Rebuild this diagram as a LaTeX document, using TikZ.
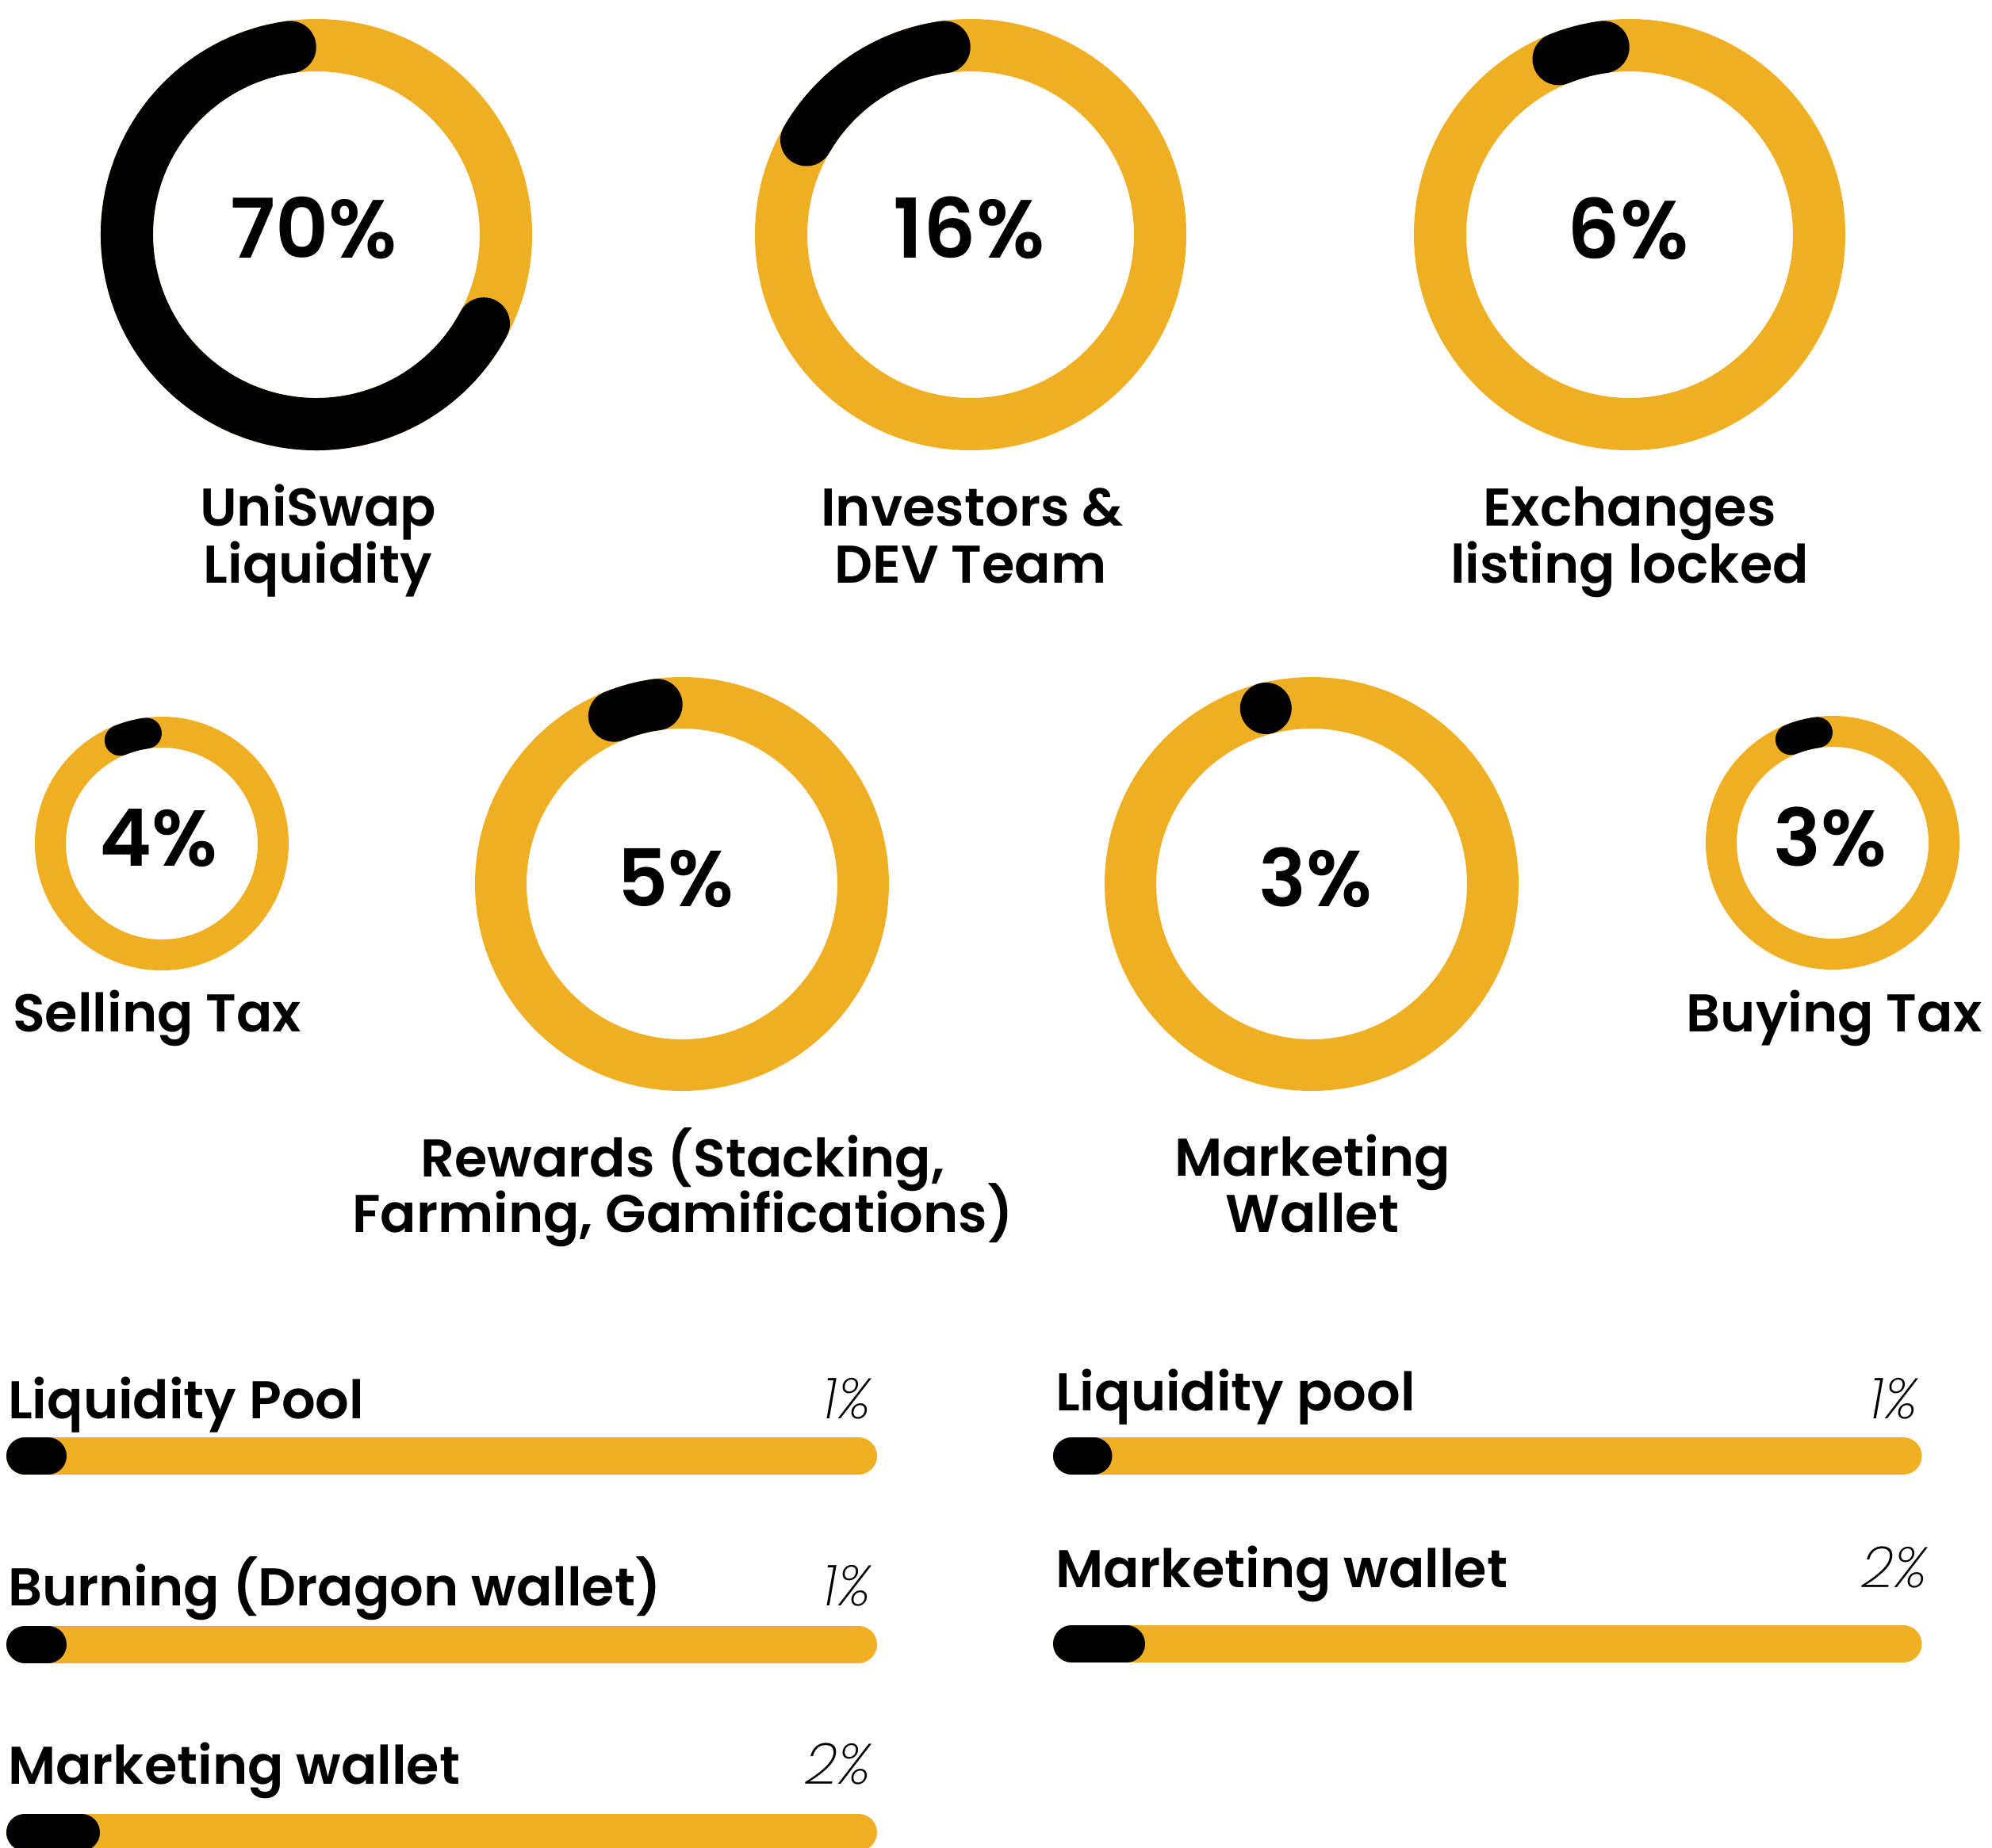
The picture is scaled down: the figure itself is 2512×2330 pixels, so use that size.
\documentclass[tikz,border=0pt]{standalone}
\usepackage{fontspec}
\setmainfont{Poppins}[UprightFont=* SemiBold, BoldFont=* SemiBold, ItalicFont=* ExtraLight Italic]
\definecolor{ylw}{RGB}{240,174,35}
\begin{document}
\begin{tikzpicture}[x=1pt,y=1pt,
  ringbig/.style={draw=ylw, line width=66pt},
  arcbig/.style={draw=black, line width=66pt, line cap=round},
  ringsmall/.style={draw=ylw, line width=39pt},
  arcsmall/.style={draw=black, line width=39pt, line cap=round},
  ringmid/.style={draw=ylw, line width=65pt},
  arcmid/.style={draw=black, line width=65pt, line cap=round},
  pct/.style={font=\fontsize{104}{110}\selectfont, anchor=base, inner sep=0pt},
  pcts/.style={font=\fontsize{100}{106}\selectfont, anchor=base, inner sep=0pt},
  lbl/.style={font=\fontsize{67}{72}\selectfont, anchor=base, inner sep=0pt},
  lblw/.style={font=\fontsize{67}{72}\selectfont, anchor=base west, inner sep=0pt},
  val/.style={font=\fontsize{72}{76}\selectfont\itshape, anchor=base east, inner sep=0pt},
  barbg/.style={draw=ylw, line width=47pt, line cap=round},
  barfg/.style={draw=black, line width=47pt, line cap=round}]
\useasboundingbox (0,0) rectangle (2512,-2330);
\fill[white] (0,0) rectangle (2512,-2330);

% ---- Row 1 donuts
\coordinate (c1) at (399,-296);
\coordinate (c2) at (1224,-296);
\coordinate (c3) at (2055,-296);
\draw[ringbig] (c1) circle[radius=239];
\draw[arcbig] (c1) ++(98:239) arc[start angle=98, end angle=332, radius=239];
\draw[ringbig] (c2) circle[radius=239];
\draw[arcbig] (c2) ++(98:239) arc[start angle=98, end angle=150, radius=239];
\draw[ringbig] (c3) circle[radius=239];
\draw[arcbig] (c3) ++(98:239) arc[start angle=98, end angle=112, radius=239];

\node[pct] (p1) at (396,-325.5) {70\%};
\node[pct] (p2) at (1222,-325.5) {16\%};
\node[pct] (p3) at (2053,-326) {6\%};

\node[lbl] (l1a) at (401,-663) {UniSwap};
\node[lbl] (l1b) at (401,-735) {Liquidity};
\node[lbl] (l2a) at (1226,-663) {Investors \&};
\node[lbl] (l2b) at (1224,-735) {DEV Team};
\node[lbl] (l3a) at (2055,-663) {Exchanges};
\node[lbl] (l3b) at (2055,-735) {listing locked};

% ---- Row 2 donuts
\coordinate (c4) at (204,-1064);
\coordinate (c5) at (860,-1115);
\coordinate (c6) at (1654,-1115);
\coordinate (c7) at (2311,-1063);
\draw[ringsmall] (c4) circle[radius=140.5];
\draw[arcsmall] (c4) ++(98:140.5) arc[start angle=98, end angle=112, radius=140.5];
\draw[ringmid] (c5) circle[radius=228.5];
\draw[arcmid] (c5) ++(98:228.5) arc[start angle=98, end angle=112, radius=228.5];
\draw[ringmid] (c6) circle[radius=228.5];
\fill[black] (c6) ++(104.6:229) circle[radius=32.5];
\draw[ringsmall] (c7) circle[radius=140.5];
\draw[arcsmall] (c7) ++(98:140.5) arc[start angle=98, end angle=112, radius=140.5];

\node[pcts] (p4) at (200,-1092) {4\%};
\node[pcts] (p5) at (852,-1143) {5\%};
\node[pcts] (p6) at (1659,-1143) {3\%};
\node[pcts] (p7) at (2308,-1092) {3\%};

\node[lbl] (l4) at (198,-1301.5) {Selling Tax};
\node[lbl] (l7) at (2313,-1301.5) {Buying Tax};
\node[lbl] (l5a) at (861,-1484) {Rewards (Stacking,};
\node[lbl] (l5b) at (861,-1554) {Farming, Gamifications)};
\node[lbl] (l6a) at (1655,-1483) {Marketing};
\node[lbl] (l6b) at (1655,-1554) {Wallet};

% ---- Bars, left column
\coordinate (a1s) at (31.5,-1836.5);  \coordinate (a1e) at (1082.5,-1836.5); \coordinate (a1f) at (60.5,-1836.5);
\coordinate (a2s) at (31.5,-2074);    \coordinate (a2e) at (1082.5,-2074);   \coordinate (a2f) at (60.5,-2074);
\coordinate (a3s) at (31.5,-2311);    \coordinate (a3e) at (1082.5,-2311);   \coordinate (a3f) at (102.5,-2311);
\draw[barbg] (a1s) -- (a1e); \draw[barfg] (a1s) -- (a1f);
\draw[barbg] (a2s) -- (a2e); \draw[barfg] (a2s) -- (a2f);
\draw[barbg] (a3s) -- (a3e); \draw[barfg] (a3s) -- (a3f);

\node[lblw] (t1) at (10,-1789) {Liquidity Pool};
\node[val] (v1) at (1098,-1789) {1\%};
\node[lblw] (t2) at (10,-2025) {Burning (Dragon wallet)};
\node[val] (v2) at (1098,-2025) {1\%};
\node[lblw] (t3) at (10,-2250.6) {Marketing wallet};
\node[val] (v3) at (1098,-2250.6) {2\%};

% ---- Bars, right column
\coordinate (b1s) at (1351.5,-1836.5); \coordinate (b1e) at (2400,-1836.5); \coordinate (b1f) at (1379,-1836.5);
\coordinate (b2s) at (1351.5,-2073.5); \coordinate (b2e) at (2400,-2073.5); \coordinate (b2f) at (1420.5,-2073.5);
\draw[barbg] (b1s) -- (b1e); \draw[barfg] (b1s) -- (b1f);
\draw[barbg] (b2s) -- (b2e); \draw[barfg] (b2s) -- (b2f);

\node[lblw] (t4) at (1331,-1779) {Liquidity pool};
\node[val] (v4) at (2418,-1789) {1\%};
\node[lblw] (t5) at (1331,-2002.6) {Marketing wallet};
\node[val] (v5) at (2430,-2002.6) {2\%};
\end{tikzpicture}
\end{document}
